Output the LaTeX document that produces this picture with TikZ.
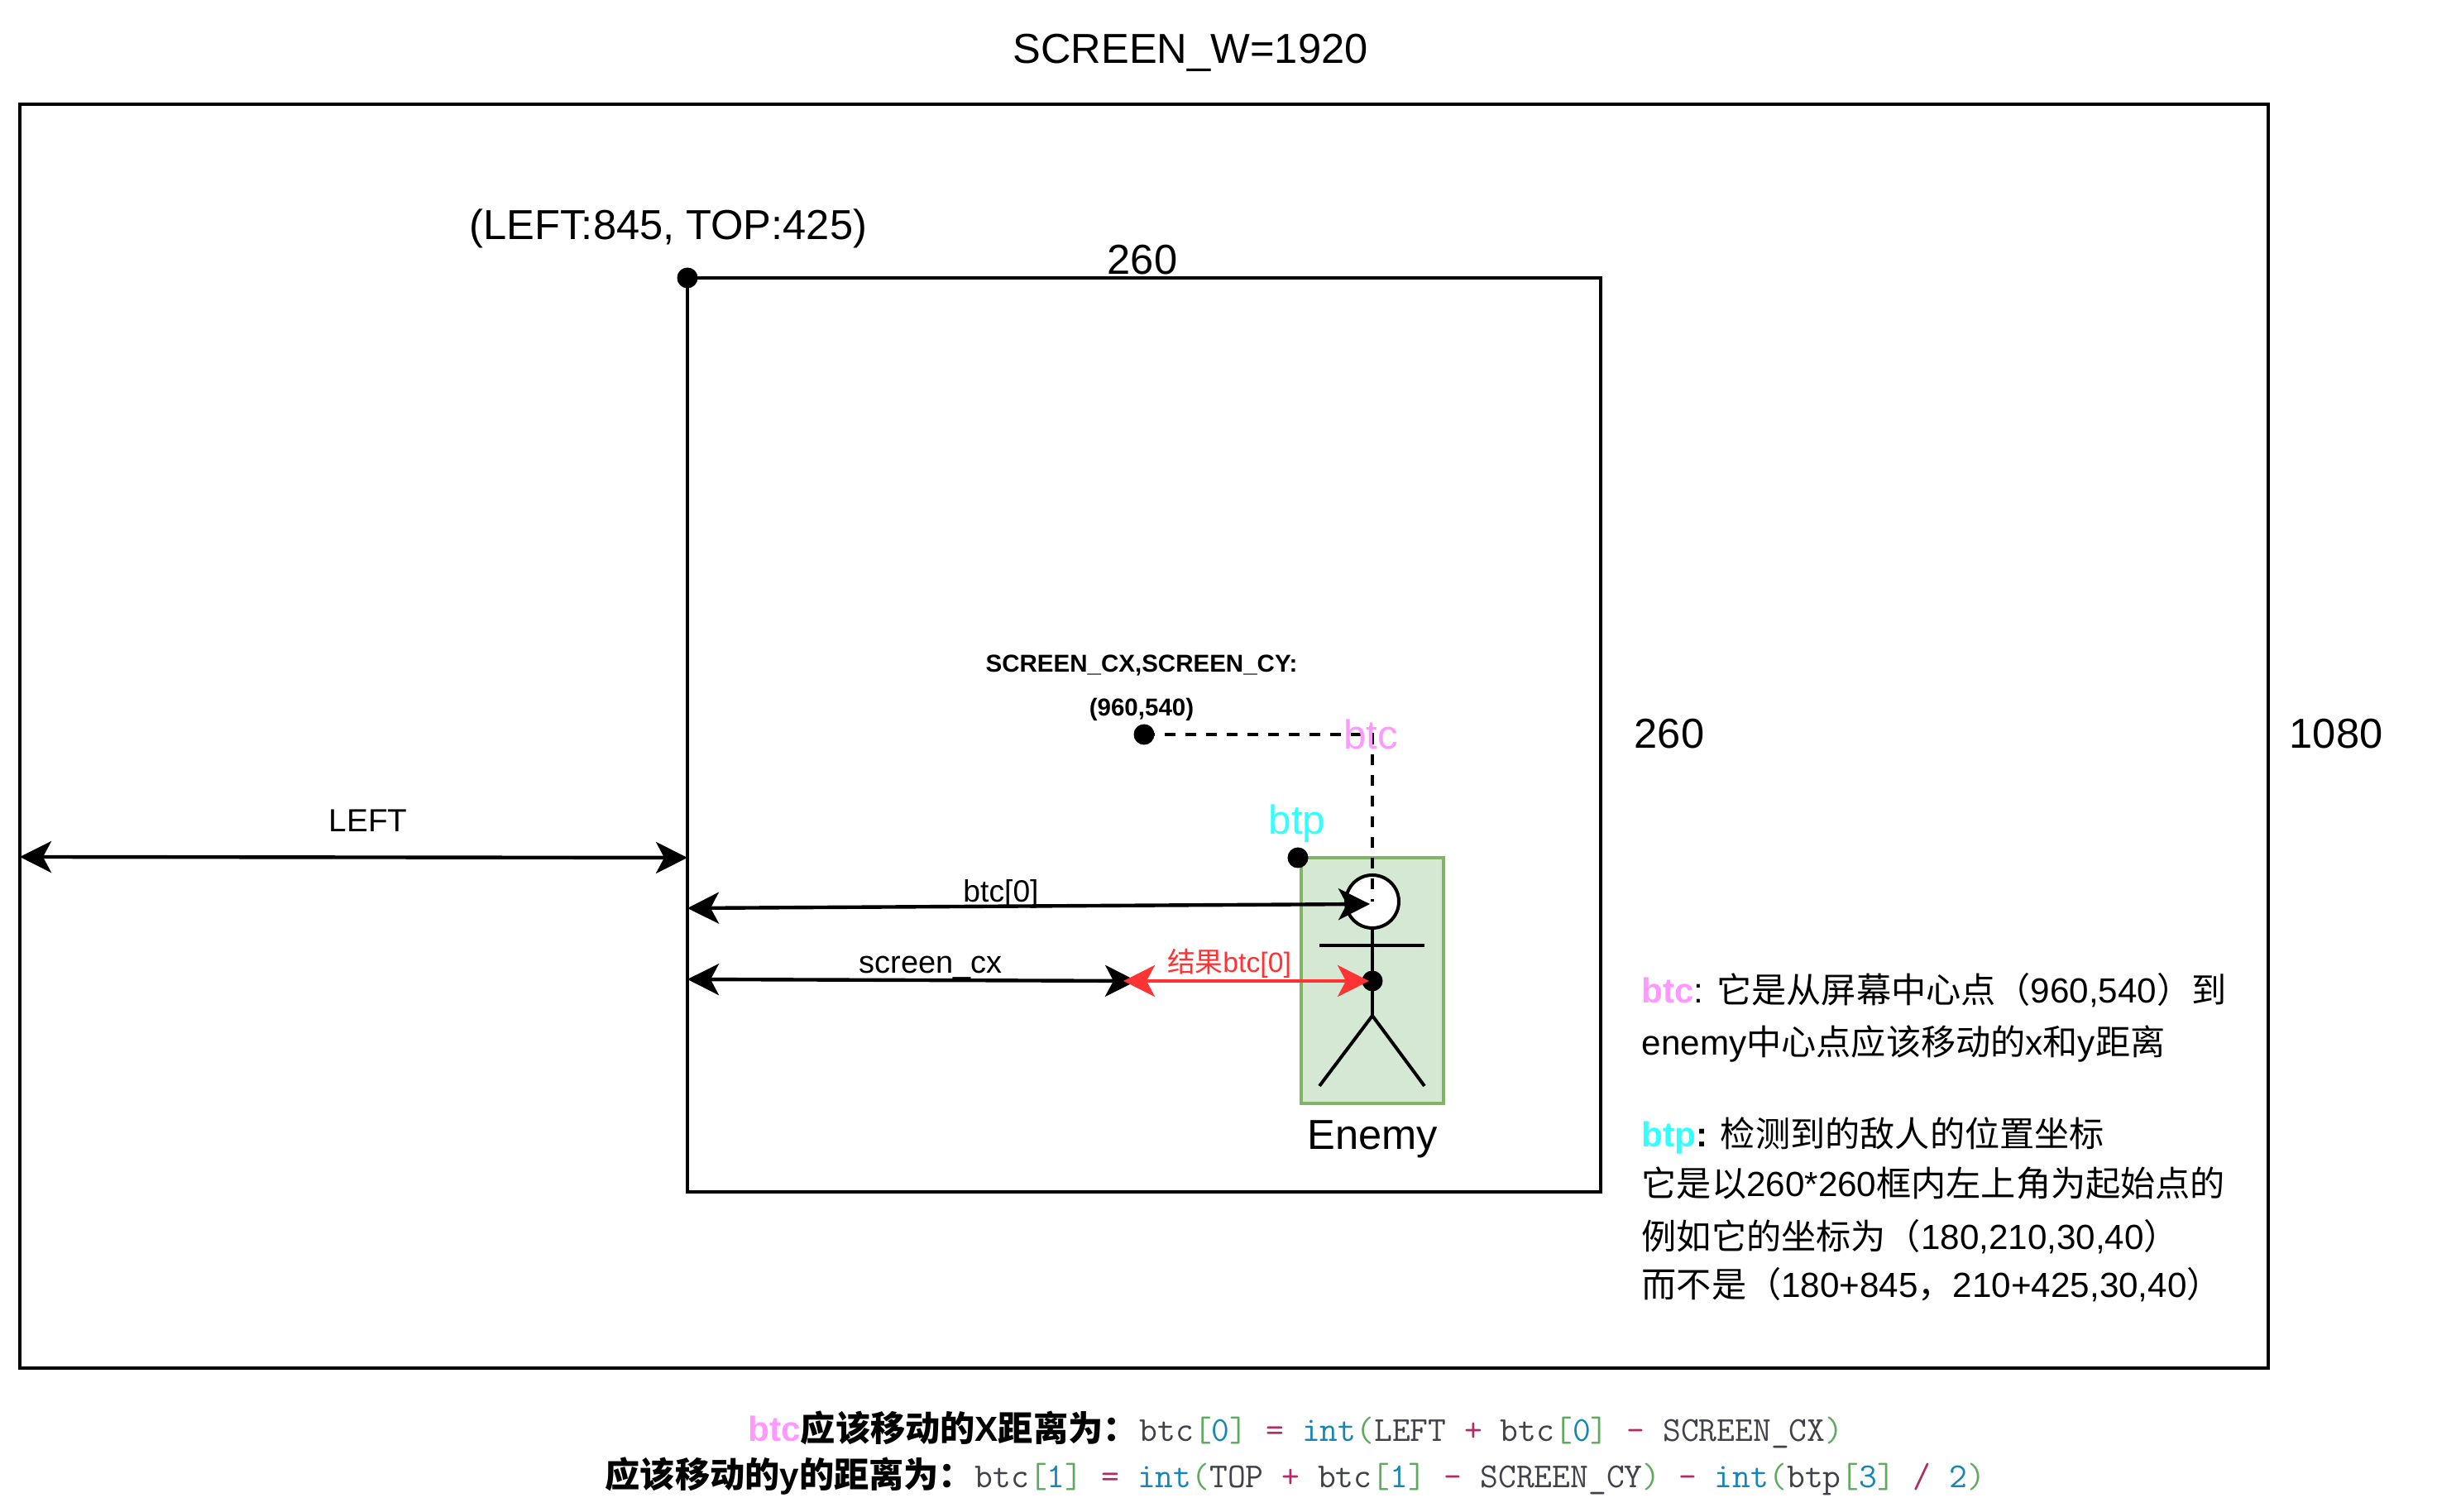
\documentclass[tikz,border=0pt]{standalone}
\usepackage{fontspec}
\usepackage{xcolor}
\setmainfont{Liberation Sans}
\newfontfamily\cjk{Noto Sans CJK SC}
\usetikzlibrary{arrows.meta,positioning,calc}
\definecolor{btcpink}{RGB}{255,153,255}
\definecolor{btpcyan}{RGB}{51,255,255}
\definecolor{resred}{RGB}{255,51,51}
\definecolor{enemyfill}{RGB}{213,232,212}
\definecolor{enemyline}{RGB}{130,179,102}
\definecolor{codegray}{RGB}{64,66,72}
\definecolor{codeblue}{RGB}{24,134,180}
\definecolor{codegreen}{RGB}{96,170,96}
\definecolor{coderose}{RGB}{176,44,100}
\newcommand{\zh}[1]{{\cjk #1}}
\newcommand{\cbr}[1]{\textcolor{codegreen}{#1}}
\newcommand{\cnum}[1]{\textcolor{codeblue}{#1}}
\newcommand{\cop}[1]{\textcolor{coderose}{#1}}

\begin{document}
\begin{tikzpicture}[
    frame/.style={draw=black, line width=1.14pt, inner sep=0pt},
    dot/.style={circle, fill=black, inner sep=0pt, minimum size=0.25cm},
    lbl/.style={font=\fontsize{#1}{#1}\selectfont, inner sep=0pt},
    note/.style={font=\fontsize{12}{14}\selectfont, inner sep=0pt, anchor=base west},
    code/.style={font=\fontsize{12.05}{14}\ttfamily, text=codegray, inner sep=0pt, anchor=base west},
    ask/.style={font=\fontsize{12}{14}\bfseries, inner sep=0pt, anchor=base west},
    stick/.style={line width=1.14pt},
    hd/.tip={Stealth[length=0.38cm,width=0.38cm,inset=0.1cm]},
    arr/.style={hd-hd, line width=1.25pt},
    guide/.style={line width=1.14pt, dash pattern=on 0.13cm off 0.12cm}]

    \useasboundingbox (0,0) rectangle (29.46,18.28);

    % screen and capture frames
    \node[frame, minimum width=27.18cm, minimum height=15.28cm] (screen) at (13.83,9.38) {};
    \node[frame, minimum width=11.04cm, minimum height=11.05cm] (grab) at (13.83,9.395) {};
    \node[frame, draw=enemyline, fill=enemyfill, minimum width=1.72cm, minimum height=2.97cm] (enemy) at (16.59,6.425) {};

    % frame labels
    \node[lbl=14.4] (screenw) at (14.39,17.64) {SCREEN\_W=1920};
    \node[lbl=14.4] (grabtl) at (8.08,15.52) {(LEFT:845, TOP:425)};
    \node[lbl=14.4] (grabw) at (13.81,15.14) {260};
    \node[lbl=14.4] (grabh) at (20.18,9.41) {260};
    \node[lbl=14.4] (screenh) at (28.24,9.41) {1080};
    \node[lbl=14.4] (enemylbl) at (16.59,4.51) {Enemy};

    % stick figure
    \node[circle, draw=black, fill=white, line width=1.14pt, inner sep=0pt, minimum size=0.64cm] (head) at (16.59,7.38) {};
    \coordinate (hip) at (16.59,6.00);
    \coordinate (armL) at (15.95,6.85);
    \coordinate (armR) at (17.22,6.85);
    \coordinate (legL) at (15.95,5.15);
    \coordinate (legR) at (17.22,5.15);
    \draw[stick] (head.south) -- (hip);
    \draw[stick] (armL) -- (armR);
    \draw[stick] (legL) -- (hip) -- (legR);

    % points
    \node[dot] (tl) at (8.31,14.92) {};
    \node[dot] (center) at (13.83,9.40) {};
    \node[dot] (btpdot) at (15.69,7.91) {};
    \node[dot] (body) at (16.59,6.42) {};
    \coordinate (corner) at (16.59,9.40);

    % btc path
    \draw[guide] (center.center) -- (corner) -- (head.center);
    \node[lbl=14, text=btcpink] (btclbl) at (16.57,9.40) {btc};
    \node[lbl=14, text=btpcyan] (btplbl) at (15.68,8.32) {btp};
    \node[lbl=8.4, font=\fontsize{8.4}{10}\bfseries] (cxy) at (13.80,10.23) {SCREEN\_CX,SCREEN\_CY:};
    \node[lbl=8.4, font=\fontsize{8.4}{10}\bfseries] (cval) at (13.80,9.70) {(960,540)};

    % distances
    \coordinate (leftA) at (0.24,7.92);
    \coordinate (leftB) at (8.31,7.91);
    \coordinate (btcA) at (8.31,7.30);
    \coordinate (btcB) at (16.56,7.35);
    \coordinate (cxA) at (8.31,6.44);
    \coordinate (cxB) at (13.74,6.42);
    \coordinate (resA) at (13.58,6.42);
    \coordinate (resB) at (16.55,6.42);
    \draw[arr] (leftA) -- (leftB);
    \draw[arr] (btcA) -- (btcB);
    \draw[arr] (cxA) -- (cxB);
    \draw[arr, resred] (resA) -- (resB);
    \node[lbl=11] (leftlbl) at (4.45,8.36) {LEFT};
    \node[lbl=10.6] (btclen) at (12.10,7.47) {btc[0]};
    \node[lbl=10.8] (cxlen) at (11.25,6.58) {screen\_cx};
    \node[lbl=9.6, text=resred] (reslen) at (14.86,6.63) {\zh{结果}btc[0]};

    % notes on the right
    \node[note] (noteA) at (19.84,6.15) {\textcolor{btcpink}{\bfseries btc}: \zh{它是从屏幕中心点（}960,540\zh{）到}};
    \node[note] (noteB) at (19.84,5.52) {enemy\zh{中心点应该移动的}x\zh{和}y\zh{距离}};
    \node[note] (noteC) at (19.84,4.41) {\textcolor{btpcyan}{\bfseries btp}\textbf{:} \zh{检测到的敌人的位置坐标}};
    \node[note] (noteD) at (19.84,3.81) {\zh{它是以}260*260\zh{框内左上角为起始点的}};
    \node[note] (noteE) at (19.84,3.17) {\zh{例如它的坐标为（}180,210,30,40\zh{）}};
    \node[note] (noteF) at (19.84,2.59) {\zh{而不是（}180+845\zh{，}210+425,30,40\zh{）}};

    % formulas
    \node[ask] (askx) at (9.04,0.85) {\textcolor{btcpink}{btc}\zh{应该移动的}X\zh{距离为：}};
    \node[code] (codex) at (13.77,0.85) {btc\cbr{[}\cnum{0}\cbr{]} \cop{=} \cnum{int}\cbr{(}LEFT \cop{+} btc\cbr{[}\cnum{0}\cbr{]} \cop{-} SCREEN\_CX\cbr{)}};
    \node[ask] (asky) at (7.31,0.29) {\zh{应该移动的}y\zh{的距离为：}};
    \node[code] (codey) at (11.78,0.29) {btc\cbr{[}\cnum{1}\cbr{]} \cop{=} \cnum{int}\cbr{(}TOP \cop{+} btc\cbr{[}\cnum{1}\cbr{]} \cop{-} SCREEN\_CY\cbr{)} \cop{-} \cnum{int}\cbr{(}btp\cbr{[}\cnum{3}\cbr{]} \cop{/} \cnum{2}\cbr{)}};
\end{tikzpicture}
\end{document}
